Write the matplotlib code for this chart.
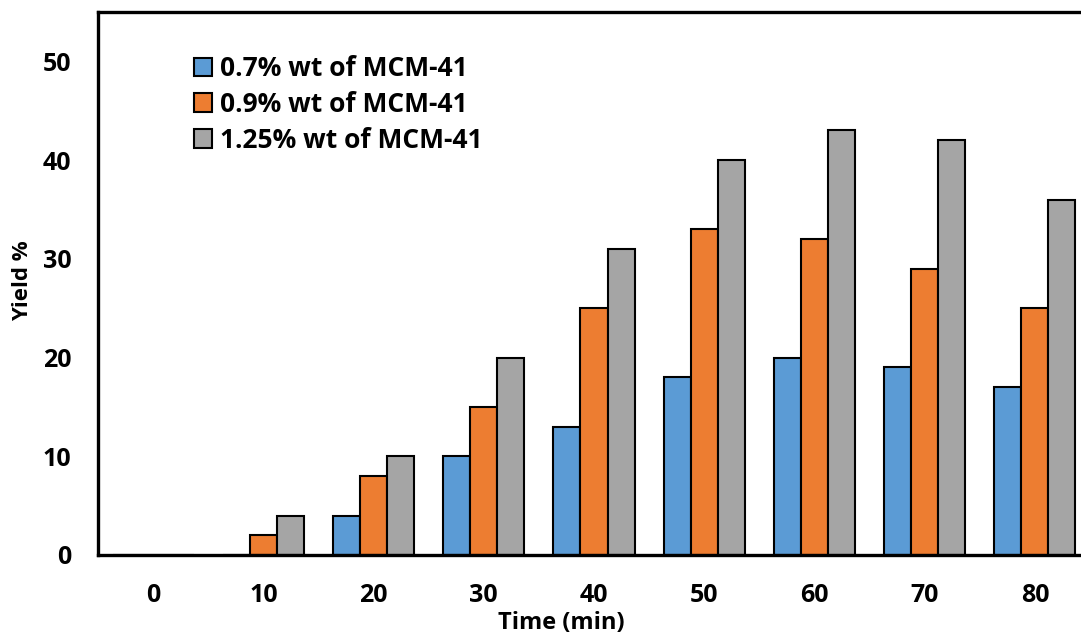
import numpy as np
import matplotlib.pyplot as plt

# data
times = ['0', '10', '20', '30', '40', '50', '60', '70', '80']
yield_07 = [0, 0, 4, 10, 13, 18, 20, 19, 17]
yield_09 = [0, 2, 8, 15, 25, 33, 32, 29, 25]
yield_125 = [0, 4, 10, 20, 31, 40, 43, 42, 36]
series_names = ['0.7% wt of MCM-41', '0.9% wt of MCM-41', '1.25% wt of MCM-41']

plt.rcParams['font.family'] = ['Open Sans', 'DejaVu Sans']
plt.rcParams['font.weight'] = 'bold'

F = plt.figure(figsize=(10.81, 6.33), dpi=100)
ax = F.add_axes([98/1081, 78/633, 992/1081, 543/633])

x = np.arange(len(times))
w = 0.245
cols = ['#5B9BD5', '#ED7D31', '#A5A5A5']
for i, (vals, c, name) in enumerate(zip([yield_07, yield_09, yield_125], cols, series_names)):
	ax.bar(x + (i-1)*w, vals, w, color=c, edgecolor='black', linewidth=1.5, label=name)

ax.set_xlim(-0.5, len(times)-0.5)
ax.set_ylim(0, 55)
ax.set_yticks([0, 10, 20, 30, 40, 50])
ax.set_xticks(x)
ax.set_xticklabels(times)
ax.tick_params(axis='both', length=0, labelsize=18)
ax.tick_params(axis='y', pad=19)
ax.tick_params(axis='x', pad=20)
for s in ['left', 'bottom', 'top']:
	ax.spines[s].set_linewidth(2.4)
ax.spines['right'].set_visible(False)

ax.set_ylabel('Yield %', fontsize=16, fontweight='bold', va='center')
ax.yaxis.set_label_coords(-75/992, 0.505)
ax.set_xlabel('Time (min)', fontsize=17, fontweight='bold', va='center')
ax.xaxis.set_label_coords(0.467, -68/543)

leg = ax.legend(loc='upper left', bbox_to_anchor=(0.086, 0.94), frameon=False,
	fontsize=19, handlelength=0.7, handleheight=0.7, handletextpad=0.3,
	labelspacing=0.33, borderaxespad=0)

F.savefig('out.png', dpi=100)
